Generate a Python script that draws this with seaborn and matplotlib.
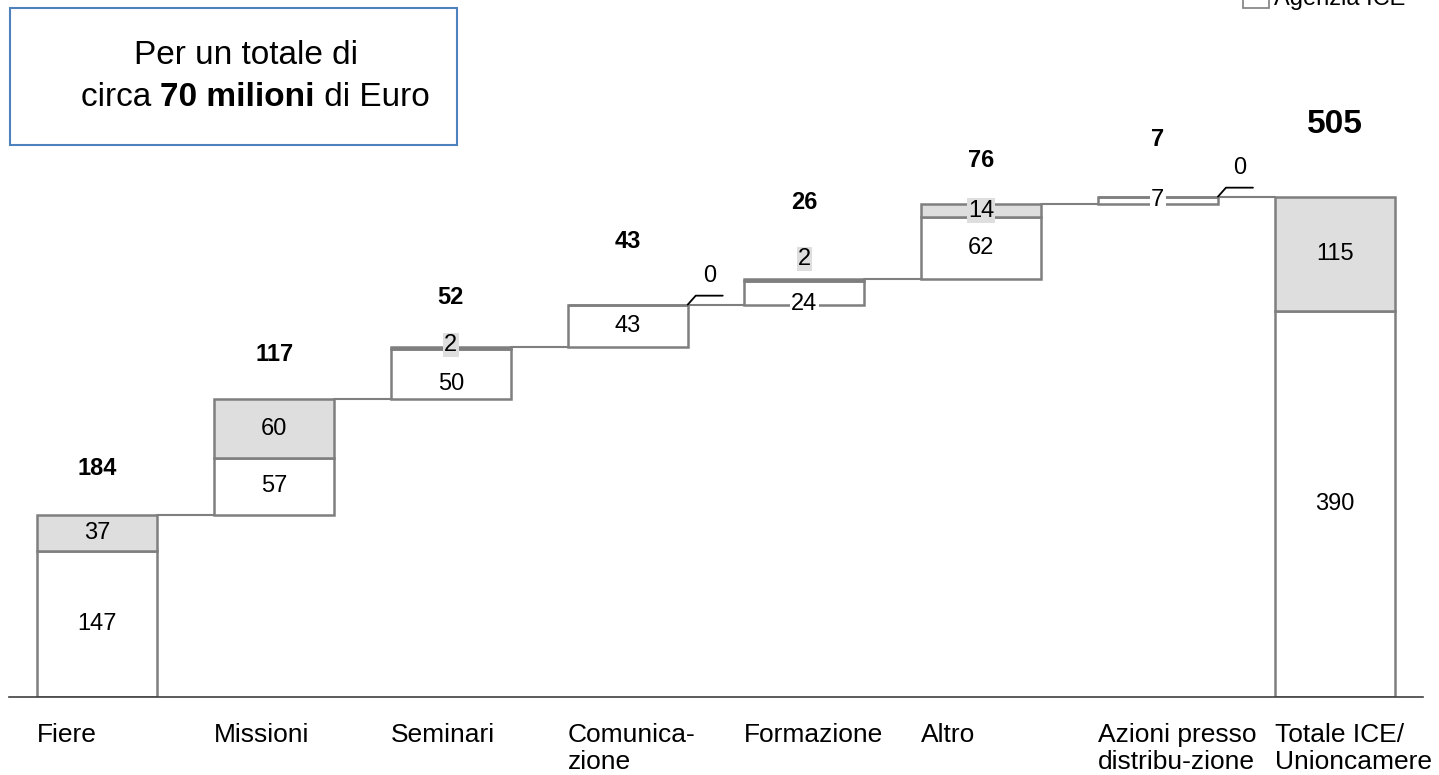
import numpy as np
import pandas as pd
import matplotlib
matplotlib.use("Agg")
import matplotlib.pyplot as plt
import seaborn as sns
from matplotlib.patches import Rectangle
from matplotlib.transforms import ScaledTranslation

# ---------------- data ----------------
categories = ["Fiere", "Missioni", "Seminari", "Comunica-\nzione", "Formazione",
              "Altro", "Azioni presso\ndistribu-zione", "Totale ICE/\nUnioncamere"]
ice_values = [147, 57, 50, 43, 24, 62, 7, 390]          # white segment (Agenzia ICE)
union_values = [37, 60, 2, 0, 2, 14, 0, 115]            # grey segment
total_values = [184, 117, 52, 43, 26, 76, 7, 505]
is_total = [False, False, False, False, False, False, False, True]
legend_label = "Agenzia ICE"
box_line1 = "Per un totale di"
box_line2 = ["circa ", "70 milioni", " di Euro"]

# label placement tweaks (data units, positive = up)
ice_label_shift = [0, 0, -10, 0, -11, 0, 0, 0]
union_label_shift = [0, 0, 3, 0, 21, 0, 0, 0]
total_label_gap = [46, 44, 50, 63, 76, 43, 57, 72]

# ---------------- derived ----------------
bases = []
run = 0
for t, tot in zip(total_values, is_total):
    if tot:
        bases.append(0)
    else:
        bases.append(run)
        run += t
bases = np.array(bases, dtype=float)
ice = np.array(ice_values, dtype=float)
union = np.array(union_values, dtype=float)
tops = bases + ice + union

df = pd.DataFrame({"cat": categories, "ice": ice, "union": union,
                   "base": bases, "mid": bases + ice})

sns.set_theme(style="white")
plt.rcParams["font.family"] = ["Liberation Sans", "DejaVu Sans"]
plt.rcParams["text.color"] = "black"
plt.rcParams["xtick.color"] = "black"
plt.rcParams["xtick.labelcolor"] = "black"

W, H = 1439, 775
fig = plt.figure(figsize=(W / 100, H / 100), dpi=100)
ax = fig.add_axes([9 / W, 78 / H, (1423 - 9) / W, 697 / H])

BW = 0.68
EDGE = "#7f7f7f"
GREY = "#dedede"
FS = 17
TICK_FS = 19

sns.barplot(data=df, x="cat", y="ice", bottom=df["base"].to_numpy(), width=BW,
            color="white", saturation=1, edgecolor=EDGE, linewidth=1.8,
            errorbar=None, ax=ax, order=categories)
sns.barplot(data=df, x="cat", y="union", bottom=df["mid"].to_numpy(), width=BW,
            color=GREY, saturation=1, edgecolor=EDGE, linewidth=1.8,
            errorbar=None, ax=ax, order=categories)

ax.set_xlim(-0.5, 7.5)
ax.set_ylim(0, 703.5)

px_x = 1 / 176.75   # data units per pixel (x)
px_y = 1 / 0.9907   # data units per pixel (y)

# connectors
for i in range(len(categories) - 1):
    y = tops[i]
    ax.plot([i + BW / 2, i + 1 - BW / 2], [y, y], color=EDGE, lw=1.5, zorder=1)

# segment labels
for i in range(len(categories)):
    if ice[i] > 0:
        yc = bases[i] + ice[i] / 2 + ice_label_shift[i]
        ax.text(i, yc, f"{ice_values[i]}", ha="center", va="center", fontsize=FS,
                color="black", zorder=5,
                bbox=dict(boxstyle="square,pad=0.05", fc="white", ec="none"))
    if union[i] > 0:
        yc = bases[i] + ice[i] + union[i] / 2 + union_label_shift[i]
        ax.text(i, yc, f"{union_values[i]}", ha="center", va="center", fontsize=FS,
                color="black", zorder=5,
                bbox=dict(boxstyle="square,pad=0.05", fc=GREY, ec="none"))
    else:
        # callout for zero values
        x0 = i + BW / 2
        y0 = tops[i]
        ax.plot([x0, x0 + 8 * px_x, x0 + 35 * px_x],
                [y0, y0 + 9 * px_y, y0 + 9 * px_y], color="black", lw=1.3, zorder=5)
        ax.text(x0 + 22 * px_x, y0 + 29 * px_y, f"{union_values[i]}", ha="center",
                va="center", fontsize=FS, color="black")

# total labels
for i in range(len(categories)):
    fs = 24 if is_total[i] else FS
    ax.text(i, tops[i] + total_label_gap[i] * px_y, f"{total_values[i]}",
            ha="center", va="center", fontsize=fs, fontweight="bold", color="black")

# axes styling
sns.despine(ax=ax, left=True, top=True, right=True)
ax.spines["bottom"].set_color("#404040")
ax.spines["bottom"].set_linewidth(1.2)
ax.set_yticks([])
ax.set_xlabel("")
ax.set_ylabel("")
ax.tick_params(axis="x", length=0, pad=19, labelsize=TICK_FS, labelcolor="black")
ax.set_xticks(range(len(categories)))
ax.set_xticklabels(categories, ha="left", linespacing=1.16)
shift = ScaledTranslation(-BW / 2 * 176.75 / 100, 0, fig.dpi_scale_trans)
for lab in ax.get_xticklabels():
    lab.set_transform(lab.get_transform() + shift)
ax.grid(False)

# title box
fig.patches.append(Rectangle((10 / W, 1 - 145 / H), (457 - 10) / W, (145 - 8) / H,
                             transform=fig.transFigure, fill=False,
                             edgecolor="#4f81bd", lw=1.5))
fig.text(246 / W, 1 - 55 / H, box_line1, ha="center", va="center", fontsize=24)

weights = ["normal", "bold", "normal"]
parts = [fig.text(0, 1 - 98 / H, s, ha="left", va="center", fontsize=24, fontweight=w)
         for s, w in zip(box_line2, weights)]

# partial legend at top-right (clipped by the top edge, as in the reference)
leg_text = fig.text(1405 / W, 1 - 5 / H, legend_label, ha="right", va="baseline",
                    fontsize=FS)

fig.canvas.draw()
r = fig.canvas.get_renderer()
widths = [p.get_window_extent(r).width for p in parts]
x = 255 - sum(widths) / 2
for p, wd in zip(parts, widths):
    p.set_x(x / W)
    x += wd

lx0 = leg_text.get_window_extent(r).x0
fig.patches.append(Rectangle(((lx0 - 31) / W, 1 - 8 / H), 26 / W, 20 / H,
                             transform=fig.transFigure, facecolor="white",
                             edgecolor=EDGE, lw=1.2))

fig.savefig("out.png", dpi=100)
